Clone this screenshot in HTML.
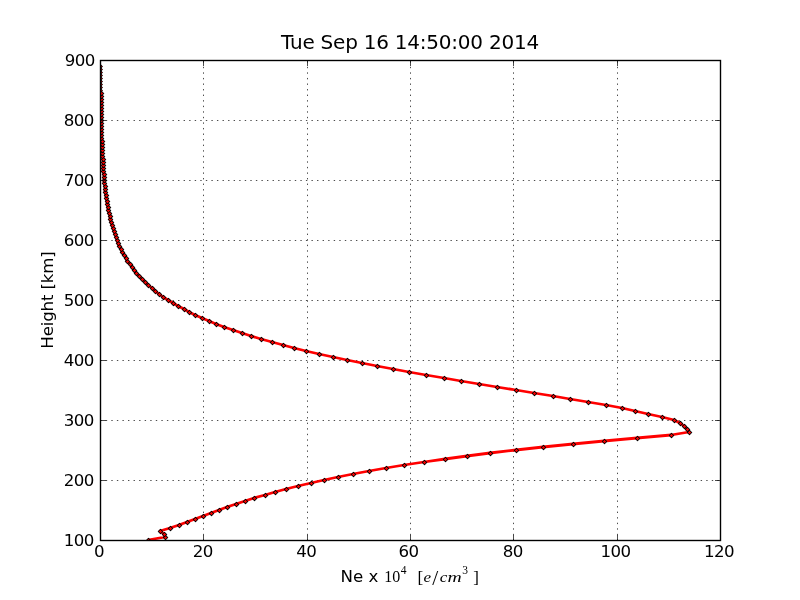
<!DOCTYPE html>
<html><head><meta charset="utf-8"><title>Tue Sep 16 14:50:00 2014</title>
<style>html,body{margin:0;padding:0;background:#fff;overflow:hidden}svg{display:block}text{font-family:"DejaVu Sans","Liberation Sans",sans-serif;fill:#000}.m text{font-family:"Liberation Serif","DejaVu Serif",serif}</style></head><body>
<svg width="800" height="600" viewBox="0 0 800 600">
<rect width="800" height="600" fill="#fff"/>
<defs><clipPath id="ax"><rect x="100" y="60" width="621" height="481"/></clipPath></defs>
<path d="M100.5 540.5V60.5M203.5 540.5V60.5M307.5 540.5V60.5M410.5 540.5V60.5M513.5 540.5V60.5M617.5 540.5V60.5M720.5 540.5V60.5M100.5 540.5H720.5M100.5 480.5H720.5M100.5 420.5H720.5M100.5 360.5H720.5M100.5 300.5H720.5M100.5 240.5H720.5M100.5 180.5H720.5M100.5 120.5H720.5M100.5 60.5H720.5" fill="none" stroke="#000" stroke-width="0.7" stroke-dasharray="1.39 4.17" stroke-dashoffset="0.3"/>
<g clip-path="url(#ax)"><polyline points="148,540 165,537 164,534 160,531 170,528 179,525 187,522 195,519 203,516 211,513 219,510 227,507 236,504 245,501 254,498 265,495 275,492 286,489 298,486 311,483 324,480 338,477 353,474 369,471 386,468 404,465 424,462 445,459 467,456 490,453 516,450 543,447 573,444 604,441 637,438 671,435 689,432 687,429 684,426 680,423 674,420 662,417 648,414 635,411 622,408 606,405 588,402 570,399 553,396 534,393 516,390 497,387 479,384 461,381 444,378 426,375 409,372 393,369 377,366 362,363 347,360 333,357 319,354 306,351 294,348 283,345 272,342 261,339 251,336 242,333 233,330 224,327 216,324 209,321 202,318 195,315 189,312 184,309 178,306 173,303 168,300 163,297 159,294 155,291 152,288 148,285 145,282 142,279 139,276 136,273 134,270 132,267 130,264 127,261 126,258 124,255 122,252 121,249 119,246 118,243 117,240 116,237 115,234 114,231 113,228 112,225 111,222 110,219 110,216 109,213 108,210 108,207 107,204 107,201 106,198 106,195 105,192 105,189 105,186 104,183 104,180 104,177 104,174 103,171 103,168 103,165 103,162 103,159 102,156 102,153 102,150 102,147 102,144 102,141 101,138 101,135 101,132 101,129 101,126 101,123 101,120 101,117 101,114 101,111 101,108 101,105 101,102 101,99 101,96 101,93 99.6,90 99.6,87 99.6,84 99.6,81 99.6,78 99.6,75 99.6,72 99.6,69 99.6,66" fill="none" stroke="#f00" stroke-width="2.78" stroke-linejoin="round"/>
<g fill="#f00" stroke="#000" stroke-width="1.05" stroke-linejoin="round">
<path d="M148.5 538.25l2.25 2.25-2.25 2.25-2.25-2.25z"/>
<path d="M165.5 535.25l2.25 2.25-2.25 2.25-2.25-2.25z"/>
<path d="M164.5 532.25l2.25 2.25-2.25 2.25-2.25-2.25z"/>
<path d="M160.5 529.25l2.25 2.25-2.25 2.25-2.25-2.25z"/>
<path d="M170.5 526.25l2.25 2.25-2.25 2.25-2.25-2.25z"/>
<path d="M179.5 523.25l2.25 2.25-2.25 2.25-2.25-2.25z"/>
<path d="M187.5 520.25l2.25 2.25-2.25 2.25-2.25-2.25z"/>
<path d="M195.5 517.25l2.25 2.25-2.25 2.25-2.25-2.25z"/>
<path d="M203.5 514.25l2.25 2.25-2.25 2.25-2.25-2.25z"/>
<path d="M211.5 511.25l2.25 2.25-2.25 2.25-2.25-2.25z"/>
<path d="M219.5 508.25l2.25 2.25-2.25 2.25-2.25-2.25z"/>
<path d="M227.5 505.25l2.25 2.25-2.25 2.25-2.25-2.25z"/>
<path d="M236.5 502.25l2.25 2.25-2.25 2.25-2.25-2.25z"/>
<path d="M245.5 499.25l2.25 2.25-2.25 2.25-2.25-2.25z"/>
<path d="M254.5 496.25l2.25 2.25-2.25 2.25-2.25-2.25z"/>
<path d="M265.5 493.25l2.25 2.25-2.25 2.25-2.25-2.25z"/>
<path d="M275.5 490.25l2.25 2.25-2.25 2.25-2.25-2.25z"/>
<path d="M286.5 487.25l2.25 2.25-2.25 2.25-2.25-2.25z"/>
<path d="M298.5 484.25l2.25 2.25-2.25 2.25-2.25-2.25z"/>
<path d="M311.5 481.25l2.25 2.25-2.25 2.25-2.25-2.25z"/>
<path d="M324.5 478.25l2.25 2.25-2.25 2.25-2.25-2.25z"/>
<path d="M338.5 475.25l2.25 2.25-2.25 2.25-2.25-2.25z"/>
<path d="M353.5 472.25l2.25 2.25-2.25 2.25-2.25-2.25z"/>
<path d="M369.5 469.25l2.25 2.25-2.25 2.25-2.25-2.25z"/>
<path d="M386.5 466.25l2.25 2.25-2.25 2.25-2.25-2.25z"/>
<path d="M404.5 463.25l2.25 2.25-2.25 2.25-2.25-2.25z"/>
<path d="M424.5 460.25l2.25 2.25-2.25 2.25-2.25-2.25z"/>
<path d="M445.5 457.25l2.25 2.25-2.25 2.25-2.25-2.25z"/>
<path d="M467.5 454.25l2.25 2.25-2.25 2.25-2.25-2.25z"/>
<path d="M490.5 451.25l2.25 2.25-2.25 2.25-2.25-2.25z"/>
<path d="M516.5 448.25l2.25 2.25-2.25 2.25-2.25-2.25z"/>
<path d="M543.5 445.25l2.25 2.25-2.25 2.25-2.25-2.25z"/>
<path d="M573.5 442.25l2.25 2.25-2.25 2.25-2.25-2.25z"/>
<path d="M604.5 439.25l2.25 2.25-2.25 2.25-2.25-2.25z"/>
<path d="M637.5 436.25l2.25 2.25-2.25 2.25-2.25-2.25z"/>
<path d="M671.5 433.25l2.25 2.25-2.25 2.25-2.25-2.25z"/>
<path d="M689.5 430.25l2.25 2.25-2.25 2.25-2.25-2.25z"/>
<path d="M687.5 427.25l2.25 2.25-2.25 2.25-2.25-2.25z"/>
<path d="M684.5 424.25l2.25 2.25-2.25 2.25-2.25-2.25z"/>
<path d="M680.5 421.25l2.25 2.25-2.25 2.25-2.25-2.25z"/>
<path d="M674.5 418.25l2.25 2.25-2.25 2.25-2.25-2.25z"/>
<path d="M662.5 415.25l2.25 2.25-2.25 2.25-2.25-2.25z"/>
<path d="M648.5 412.25l2.25 2.25-2.25 2.25-2.25-2.25z"/>
<path d="M635.5 409.25l2.25 2.25-2.25 2.25-2.25-2.25z"/>
<path d="M622.5 406.25l2.25 2.25-2.25 2.25-2.25-2.25z"/>
<path d="M606.5 403.25l2.25 2.25-2.25 2.25-2.25-2.25z"/>
<path d="M588.5 400.25l2.25 2.25-2.25 2.25-2.25-2.25z"/>
<path d="M570.5 397.25l2.25 2.25-2.25 2.25-2.25-2.25z"/>
<path d="M553.5 394.25l2.25 2.25-2.25 2.25-2.25-2.25z"/>
<path d="M534.5 391.25l2.25 2.25-2.25 2.25-2.25-2.25z"/>
<path d="M516.5 388.25l2.25 2.25-2.25 2.25-2.25-2.25z"/>
<path d="M497.5 385.25l2.25 2.25-2.25 2.25-2.25-2.25z"/>
<path d="M479.5 382.25l2.25 2.25-2.25 2.25-2.25-2.25z"/>
<path d="M461.5 379.25l2.25 2.25-2.25 2.25-2.25-2.25z"/>
<path d="M444.5 376.25l2.25 2.25-2.25 2.25-2.25-2.25z"/>
<path d="M426.5 373.25l2.25 2.25-2.25 2.25-2.25-2.25z"/>
<path d="M409.5 370.25l2.25 2.25-2.25 2.25-2.25-2.25z"/>
<path d="M393.5 367.25l2.25 2.25-2.25 2.25-2.25-2.25z"/>
<path d="M377.5 364.25l2.25 2.25-2.25 2.25-2.25-2.25z"/>
<path d="M362.5 361.25l2.25 2.25-2.25 2.25-2.25-2.25z"/>
<path d="M347.5 358.25l2.25 2.25-2.25 2.25-2.25-2.25z"/>
<path d="M333.5 355.25l2.25 2.25-2.25 2.25-2.25-2.25z"/>
<path d="M319.5 352.25l2.25 2.25-2.25 2.25-2.25-2.25z"/>
<path d="M306.5 349.25l2.25 2.25-2.25 2.25-2.25-2.25z"/>
<path d="M294.5 346.25l2.25 2.25-2.25 2.25-2.25-2.25z"/>
<path d="M283.5 343.25l2.25 2.25-2.25 2.25-2.25-2.25z"/>
<path d="M272.5 340.25l2.25 2.25-2.25 2.25-2.25-2.25z"/>
<path d="M261.5 337.25l2.25 2.25-2.25 2.25-2.25-2.25z"/>
<path d="M251.5 334.25l2.25 2.25-2.25 2.25-2.25-2.25z"/>
<path d="M242.5 331.25l2.25 2.25-2.25 2.25-2.25-2.25z"/>
<path d="M233.5 328.25l2.25 2.25-2.25 2.25-2.25-2.25z"/>
<path d="M224.5 325.25l2.25 2.25-2.25 2.25-2.25-2.25z"/>
<path d="M216.5 322.25l2.25 2.25-2.25 2.25-2.25-2.25z"/>
<path d="M209.5 319.25l2.25 2.25-2.25 2.25-2.25-2.25z"/>
<path d="M202.5 316.25l2.25 2.25-2.25 2.25-2.25-2.25z"/>
<path d="M195.5 313.25l2.25 2.25-2.25 2.25-2.25-2.25z"/>
<path d="M189.5 310.25l2.25 2.25-2.25 2.25-2.25-2.25z"/>
<path d="M184.5 307.25l2.25 2.25-2.25 2.25-2.25-2.25z"/>
<path d="M178.5 304.25l2.25 2.25-2.25 2.25-2.25-2.25z"/>
<path d="M173.5 301.25l2.25 2.25-2.25 2.25-2.25-2.25z"/>
<path d="M168.5 298.25l2.25 2.25-2.25 2.25-2.25-2.25z"/>
<path d="M163.5 295.25l2.25 2.25-2.25 2.25-2.25-2.25z"/>
<path d="M159.5 292.25l2.25 2.25-2.25 2.25-2.25-2.25z"/>
<path d="M155.5 289.25l2.25 2.25-2.25 2.25-2.25-2.25z"/>
<path d="M152.5 286.25l2.25 2.25-2.25 2.25-2.25-2.25z"/>
<path d="M148.5 283.25l2.25 2.25-2.25 2.25-2.25-2.25z"/>
<path d="M145.5 280.25l2.25 2.25-2.25 2.25-2.25-2.25z"/>
<path d="M142.5 277.25l2.25 2.25-2.25 2.25-2.25-2.25z"/>
<path d="M139.5 274.25l2.25 2.25-2.25 2.25-2.25-2.25z"/>
<path d="M136.5 271.25l2.25 2.25-2.25 2.25-2.25-2.25z"/>
<path d="M134.5 268.25l2.25 2.25-2.25 2.25-2.25-2.25z"/>
<path d="M132.5 265.25l2.25 2.25-2.25 2.25-2.25-2.25z"/>
<path d="M130.5 262.25l2.25 2.25-2.25 2.25-2.25-2.25z"/>
<path d="M127.5 259.25l2.25 2.25-2.25 2.25-2.25-2.25z"/>
<path d="M126.5 256.25l2.25 2.25-2.25 2.25-2.25-2.25z"/>
<path d="M124.5 253.25l2.25 2.25-2.25 2.25-2.25-2.25z"/>
<path d="M122.5 250.25l2.25 2.25-2.25 2.25-2.25-2.25z"/>
<path d="M121.5 247.25l2.25 2.25-2.25 2.25-2.25-2.25z"/>
<path d="M119.5 244.25l2.25 2.25-2.25 2.25-2.25-2.25z"/>
<path d="M118.5 241.25l2.25 2.25-2.25 2.25-2.25-2.25z"/>
<path d="M117.5 238.25l2.25 2.25-2.25 2.25-2.25-2.25z"/>
<path d="M116.5 235.25l2.25 2.25-2.25 2.25-2.25-2.25z"/>
<path d="M115.5 232.25l2.25 2.25-2.25 2.25-2.25-2.25z"/>
<path d="M114.5 229.25l2.25 2.25-2.25 2.25-2.25-2.25z"/>
<path d="M113.5 226.25l2.25 2.25-2.25 2.25-2.25-2.25z"/>
<path d="M112.5 223.25l2.25 2.25-2.25 2.25-2.25-2.25z"/>
<path d="M111.5 220.25l2.25 2.25-2.25 2.25-2.25-2.25z"/>
<path d="M110.5 217.25l2.25 2.25-2.25 2.25-2.25-2.25z"/>
<path d="M110.5 214.25l2.25 2.25-2.25 2.25-2.25-2.25z"/>
<path d="M109.5 211.25l2.25 2.25-2.25 2.25-2.25-2.25z"/>
<path d="M108.5 208.25l2.25 2.25-2.25 2.25-2.25-2.25z"/>
<path d="M108.5 205.25l2.25 2.25-2.25 2.25-2.25-2.25z"/>
<path d="M107.5 202.25l2.25 2.25-2.25 2.25-2.25-2.25z"/>
<path d="M107.5 199.25l2.25 2.25-2.25 2.25-2.25-2.25z"/>
<path d="M106.5 196.25l2.25 2.25-2.25 2.25-2.25-2.25z"/>
<path d="M106.5 193.25l2.25 2.25-2.25 2.25-2.25-2.25z"/>
<path d="M105.5 190.25l2.25 2.25-2.25 2.25-2.25-2.25z"/>
<path d="M105.5 187.25l2.25 2.25-2.25 2.25-2.25-2.25z"/>
<path d="M105.5 184.25l2.25 2.25-2.25 2.25-2.25-2.25z"/>
<path d="M104.5 181.25l2.25 2.25-2.25 2.25-2.25-2.25z"/>
<path d="M104.5 178.25l2.25 2.25-2.25 2.25-2.25-2.25z"/>
<path d="M104.5 175.25l2.25 2.25-2.25 2.25-2.25-2.25z"/>
<path d="M104.5 172.25l2.25 2.25-2.25 2.25-2.25-2.25z"/>
<path d="M103.5 169.25l2.25 2.25-2.25 2.25-2.25-2.25z"/>
<path d="M103.5 166.25l2.25 2.25-2.25 2.25-2.25-2.25z"/>
<path d="M103.5 163.25l2.25 2.25-2.25 2.25-2.25-2.25z"/>
<path d="M103.5 160.25l2.25 2.25-2.25 2.25-2.25-2.25z"/>
<path d="M103.5 157.25l2.25 2.25-2.25 2.25-2.25-2.25z"/>
<path d="M102.5 154.25l2.25 2.25-2.25 2.25-2.25-2.25z"/>
<path d="M102.5 151.25l2.25 2.25-2.25 2.25-2.25-2.25z"/>
<path d="M102.5 148.25l2.25 2.25-2.25 2.25-2.25-2.25z"/>
<path d="M102.5 145.25l2.25 2.25-2.25 2.25-2.25-2.25z"/>
<path d="M102.5 142.25l2.25 2.25-2.25 2.25-2.25-2.25z"/>
<path d="M102.5 139.25l2.25 2.25-2.25 2.25-2.25-2.25z"/>
<path d="M101.5 136.25l2.25 2.25-2.25 2.25-2.25-2.25z"/>
<path d="M101.5 133.25l2.25 2.25-2.25 2.25-2.25-2.25z"/>
<path d="M101.5 130.25l2.25 2.25-2.25 2.25-2.25-2.25z"/>
<path d="M101.5 127.25l2.25 2.25-2.25 2.25-2.25-2.25z"/>
<path d="M101.5 124.25l2.25 2.25-2.25 2.25-2.25-2.25z"/>
<path d="M101.5 121.25l2.25 2.25-2.25 2.25-2.25-2.25z"/>
<path d="M101.5 118.25l2.25 2.25-2.25 2.25-2.25-2.25z"/>
<path d="M101.5 115.25l2.25 2.25-2.25 2.25-2.25-2.25z"/>
<path d="M101.5 112.25l2.25 2.25-2.25 2.25-2.25-2.25z"/>
<path d="M101.5 109.25l2.25 2.25-2.25 2.25-2.25-2.25z"/>
<path d="M101.5 106.25l2.25 2.25-2.25 2.25-2.25-2.25z"/>
<path d="M101.5 103.25l2.25 2.25-2.25 2.25-2.25-2.25z"/>
<path d="M101.5 100.25l2.25 2.25-2.25 2.25-2.25-2.25z"/>
<path d="M101.5 97.25l2.25 2.25-2.25 2.25-2.25-2.25z"/>
<path d="M101.5 94.25l2.25 2.25-2.25 2.25-2.25-2.25z"/>
<path d="M101.5 91.25l2.25 2.25-2.25 2.25-2.25-2.25z"/>
<path d="M100.1 88.25l2.25 2.25-2.25 2.25-2.25-2.25z"/>
<path d="M100.1 85.25l2.25 2.25-2.25 2.25-2.25-2.25z"/>
<path d="M100.1 82.25l2.25 2.25-2.25 2.25-2.25-2.25z"/>
<path d="M100.1 79.25l2.25 2.25-2.25 2.25-2.25-2.25z"/>
<path d="M100.1 76.25l2.25 2.25-2.25 2.25-2.25-2.25z"/>
<path d="M100.1 73.25l2.25 2.25-2.25 2.25-2.25-2.25z"/>
<path d="M100.1 70.25l2.25 2.25-2.25 2.25-2.25-2.25z"/>
<path d="M100.1 67.25l2.25 2.25-2.25 2.25-2.25-2.25z"/>
<path d="M100.1 64.25l2.25 2.25-2.25 2.25-2.25-2.25z"/>
</g></g>
<path d="M100.5 540.5v-5.5M100.5 60.5v5.5M203.5 540.5v-5.5M203.5 60.5v5.5M307.5 540.5v-5.5M307.5 60.5v5.5M410.5 540.5v-5.5M410.5 60.5v5.5M513.5 540.5v-5.5M513.5 60.5v5.5M617.5 540.5v-5.5M617.5 60.5v5.5M720.5 540.5v-5.5M720.5 60.5v5.5M100.5 540.5h5.5M720.5 540.5h-5.5M100.5 480.5h5.5M720.5 480.5h-5.5M100.5 420.5h5.5M720.5 420.5h-5.5M100.5 360.5h5.5M720.5 360.5h-5.5M100.5 300.5h5.5M720.5 300.5h-5.5M100.5 240.5h5.5M720.5 240.5h-5.5M100.5 180.5h5.5M720.5 180.5h-5.5M100.5 120.5h5.5M720.5 120.5h-5.5M100.5 60.5h5.5M720.5 60.5h-5.5" fill="none" stroke="#000" stroke-width="0.7"/>
<rect x="100.5" y="60.5" width="620.0" height="480.0" fill="none" stroke="#000" stroke-width="1.39"/>
<g font-size="16.67px" letter-spacing="-0.6">
<text x="99.00" y="557" text-anchor="middle">0</text>
<text x="202.83" y="557" text-anchor="middle">20</text>
<text x="306.17" y="557" text-anchor="middle">40</text>
<text x="408.50" y="557" text-anchor="middle">60</text>
<text x="512.83" y="557" text-anchor="middle">80</text>
<text x="615.47" y="557" text-anchor="middle">100</text>
<text x="719.00" y="557" text-anchor="middle">120</text>
<text x="93.8" y="546.0" text-anchor="end">100</text>
<text x="93.8" y="486.0" text-anchor="end">200</text>
<text x="93.8" y="426.0" text-anchor="end">300</text>
<text x="93.8" y="366.0" text-anchor="end">400</text>
<text x="93.8" y="306.0" text-anchor="end">500</text>
<text x="93.8" y="246.0" text-anchor="end">600</text>
<text x="93.8" y="186.0" text-anchor="end">700</text>
<text x="93.8" y="126.0" text-anchor="end">800</text>
<text x="94.8" y="66.0" text-anchor="end">900</text>
</g>
<text x="281" y="49.4" font-size="20px" letter-spacing="-0.23">Tue Sep 16 14:50:00 2014</text>
<text transform="translate(52.7 300) rotate(-90)" font-size="16.67px" letter-spacing="-0.17" text-anchor="middle">Height [km]</text>
<text x="340.6" y="581.8" font-size="16.67px">Ne x</text>
<g class="m"><text font-size="16px" x="384.3" y="581.8">10</text><text font-size="11.5px" x="400.8" y="573.6">4</text><text font-size="17px" x="417.5" y="582.6">[</text><text font-size="15.6px" font-style="italic" y="581.8"><tspan x="423.5" textLength="7.6" lengthAdjust="spacingAndGlyphs">e</tspan><tspan x="439.8" textLength="7.6" lengthAdjust="spacingAndGlyphs">c</tspan><tspan x="447.4" textLength="14.2" lengthAdjust="spacingAndGlyphs">m</tspan></text><text font-size="21.5px" x="432.3" y="584.6">/</text><text font-size="11.5px" x="462.2" y="573.6">3</text><text font-size="17px" x="473.3" y="582.6">]</text></g>
</svg></body></html>
